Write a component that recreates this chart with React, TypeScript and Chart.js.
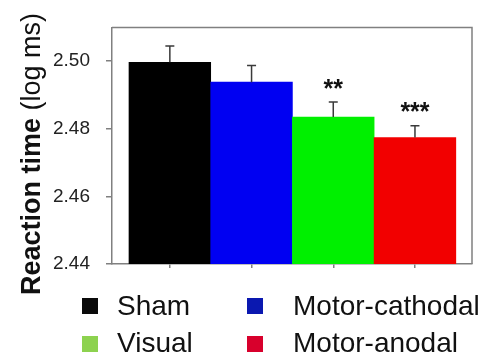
import React, { useEffect, useRef } from 'react';
import { Chart, registerables } from 'chart.js';

Chart.register(...registerables);

const categories = ['Sham', 'Motor-cathodal', 'Visual', 'Motor-anodal'];
const means = [2.4997, 2.4938, 2.4835, 2.4774];
const errors = [0.0048, 0.0049, 0.0044, 0.0035];
const significance = ['', '', '**', '***'];
const barColors = ['#000000', '#0000f2', '#00f000', '#f20000'];
const legendColors = ['#0a0a0a', '#0a18b0', '#8dd24f', '#d8002c'];
const yTicks = [2.44, 2.46, 2.48, 2.5];
const yMin = 2.44;
const yMax = 2.51;
const titleBold = 'Reaction time';
const titleNormal = ' (log ms)';

const FONT = '"Liberation Sans", Arial, sans-serif';

const overlay = {
  id: 'overlay',
  afterDatasetsDraw(chart: any) {
    const { ctx, chartArea } = chart;
    const yS = chart.scales.y;
    ctx.save();
    // top & right frame
    ctx.strokeStyle = '#808080';
    ctx.lineWidth = 1.5;
    ctx.beginPath();
    ctx.moveTo(chartArea.left, chartArea.top);
    ctx.lineTo(chartArea.right, chartArea.top);
    ctx.lineTo(chartArea.right, chartArea.bottom);
    ctx.stroke();
    // error bars + significance
    const meta = chart.getDatasetMeta(0);
    meta.data.forEach((bar: any, i: number) => {
      const cx = bar.x;
      const top = yS.getPixelForValue(means[i] + errors[i]);
      ctx.strokeStyle = '#3a3a3a';
      ctx.lineWidth = 1.5;
      ctx.beginPath();
      ctx.moveTo(cx, bar.y);
      ctx.lineTo(cx, top);
      ctx.moveTo(cx - 4.5, top);
      ctx.lineTo(cx + 4.5, top);
      ctx.stroke();
      if (significance[i]) {
        ctx.fillStyle = '#111';
        ctx.font = `bold 25px ${FONT}`;
        ctx.textAlign = 'center';
        ctx.textBaseline = 'alphabetic';
        ctx.fillText(significance[i], cx, top - 5.5);
      }
    });
    ctx.restore();
  },
  afterDraw(chart: any) {
    const { ctx } = chart;
    ctx.save();
    // y title
    ctx.translate(39.5, 295);
    ctx.rotate(-Math.PI / 2);
    ctx.fillStyle = '#111';
    ctx.textAlign = 'left';
    ctx.textBaseline = 'alphabetic';
    ctx.font = `bold 27px ${FONT}`;
    ctx.fillText(titleBold, 0, 0);
    const w = ctx.measureText(titleBold).width;
    ctx.font = `27px ${FONT}`;
    ctx.fillText(titleNormal, w, 0);
    ctx.restore();

    // legend (2 columns)
    ctx.save();
    const swatchX = [82, 247];
    const textX = [117, 293];
    const swatchY = [298, 336];
    const baseY = [315, 351.5];
    ctx.font = `28px ${FONT}`;
    ctx.textAlign = 'left';
    ctx.textBaseline = 'alphabetic';
    categories.forEach((name, i) => {
      const row = Math.floor(i / 2);
      const col = i % 2;
      ctx.fillStyle = legendColors[i];
      ctx.fillRect(swatchX[col], swatchY[row], 16, 16);
      ctx.fillStyle = '#111';
      ctx.fillText(name, textX[col], baseY[row]);
    });
    ctx.restore();
  },
};

export default function App() {
  const ref = useRef<HTMLCanvasElement | null>(null);
  useEffect(() => {
    if (!ref.current) return;
    const chart = new Chart(ref.current, {
      type: 'bar',
      data: {
        datasets: [
          {
            label: 'Reaction time',
            data: means.map((v, i) => ({ x: i, y: v })),
            backgroundColor: barColors,
            borderWidth: 0,
            barPercentage: 1,
            categoryPercentage: 1,
          },
        ],
      },
      options: {
        responsive: false,
        animation: false,
        devicePixelRatio: 1,
        layout: { padding: { top: 26, right: 14, left: 0, bottom: 0 } },
        plugins: { legend: { display: false }, tooltip: { enabled: false } },
        scales: {
          x: {
            type: 'linear',
            offset: false,
            min: -0.708,
            max: 3.698,
            afterBuildTicks: (s: any) => {
              s.ticks = categories.map((_, i) => ({ value: i }));
            },
            ticks: { display: false },
            grid: { drawOnChartArea: false, offset: false, tickLength: 4, color: '#808080', lineWidth: 1.5 },
            border: { color: '#808080', width: 1.5 },
            afterFit: (s: any) => {
              s.height = 94;
            },
          },
          y: {
            type: 'linear',
            min: yMin,
            max: yMax,
            afterBuildTicks: (s: any) => {
              s.ticks = yTicks.map((v) => ({ value: v }));
            },
            ticks: {
              padding: 16,
              color: '#222',
              font: { size: 19, family: FONT },
              callback: (v: any) => Number(v).toFixed(2),
            },
            grid: { drawOnChartArea: false, tickLength: 6, color: '#808080', lineWidth: 1.5 },
            border: { color: '#808080', width: 1.5 },
            afterFit: (s: any) => {
              s.width = 112;
            },
          },
        },
      },
      plugins: [overlay],
    } as any);
    return () => chart.destroy();
  }, []);
  return (
    <div style={{ position: 'absolute', left: 0, top: 0, width: 486, height: 358, background: '#fff' }}>
      <canvas ref={ref} width={486} height={358} style={{ display: 'block' }} />
    </div>
  );
}
